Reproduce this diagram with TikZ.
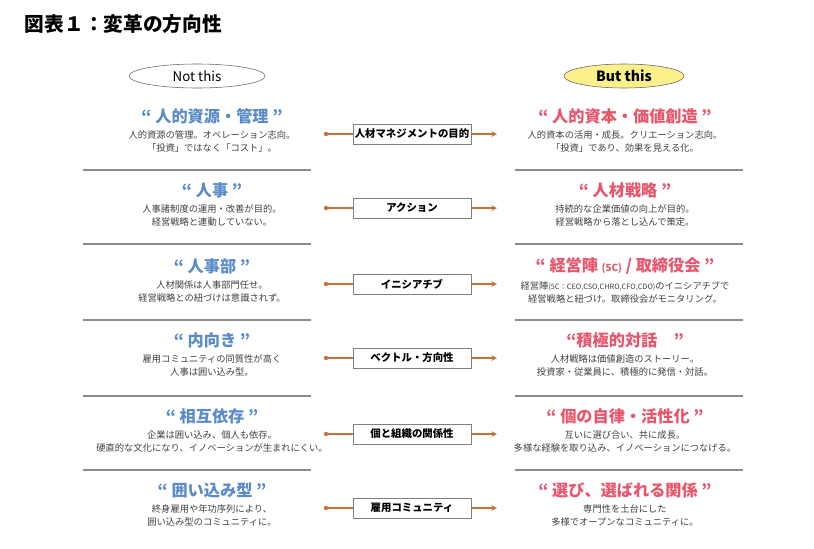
\documentclass[tikz,border=0pt]{standalone}
\usepackage{fontspec}
\setmainfont{Noto Sans CJK JP}
\usepackage{tikz}
\usetikzlibrary{shapes.geometric, arrows, positioning, calc}
\definecolor{notblue}{HTML}{5B8BC9}
\definecolor{butred}{HTML}{E8566C}
\definecolor{arrorange}{HTML}{C9713A}
\definecolor{sepgray}{HTML}{8C8C8C}
\definecolor{ovalyel}{HTML}{FBF08A}
\tikzstyle{oval} = [ellipse, draw=black!60, minimum width=3.4cm, minimum height=0.6cm, inner sep=0pt, font=\fontsize{9.5}{10}\selectfont]
\tikzstyle{headnot} = [text=notblue, font=\bfseries\fontsize{11.5}{13}\selectfont]
\tikzstyle{headbut} = [text=butred, font=\bfseries\fontsize{11.5}{13}\selectfont]
\tikzstyle{subtext} = [text=black!75, align=center, font=\fontsize{6.6}{9.4}\selectfont]
\tikzstyle{midbox} = [rectangle, draw=gray, fill=white, minimum width=2.95cm, minimum height=0.5cm, inner sep=1pt, font=\bfseries\fontsize{7.4}{8}\selectfont]
\tikzstyle{arrow} = [thick, arrorange, ->, >=stealth]
\tikzstyle{sepline} = [sepgray, line width=0.9pt]

\begin{document}
\begin{tikzpicture}[x=0.025cm, y=-0.025cm]
    \useasboundingbox (0,0) rectangle (814,548);
    % Title
    \node (title) [anchor=west, font=\bfseries\fontsize{14}{16}\selectfont] at (20,24) {図表１：変革の方向性};

    % Ovals
    \node (notthis) [oval] at (197,76) {Not this};
    \node (butthis) [oval, fill=ovalyel, minimum width=3.0cm, font=\bfseries\fontsize{10}{11}\selectfont] at (624,76) {But this};

    % Rows: y / left head / left text / mid / right head / right text
    \foreach \y/\lh/\lt/\mtxt/\rh/\rt [count=\i] in {
        116/{“ 人的資源・管理 ”}/{人的資源の管理。オペレーション志向。\\「投資」ではなく「コスト」。}/{人材マネジメントの目的}/{“ 人的資本・価値創造 ”}/{人的資本の活用・成長。クリエーション志向。\\「投資」であり、効果を見える化。},
        190/{“ 人事 ”}/{人事諸制度の運用・改善が目的。\\経営戦略と連動していない。}/{アクション}/{“ 人材戦略 ”}/{持続的な企業価値の向上が目的。\\経営戦略から落とし込んで策定。},
        266/{“ 人事部 ”}/{人材関係は人事部門任せ。\\経営戦略との紐づけは意識されず。}/{イニシアチブ}/{“ 経営陣 {\fontsize{7}{8}\selectfont(5C)} / 取締役会 ”}/{経営陣{\fontsize{5.2}{6}\selectfont(5C：CEO,CSO,CHRO,CFO,CDO)}のイニシアチブで\\経営戦略と紐づけ。取締役会がモニタリング。},
        340/{“ 内向き ”}/{雇用コミュニティの同質性が高く\\人事は囲い込み型。}/{ベクトル・方向性}/{“積極的対話　”}/{人材戦略は価値創造のストーリー。\\投資家・従業員に、積極的に発信・対話。},
        416/{“ 相互依存 ”}/{企業は囲い込み、個人も依存。\\硬直的な文化になり、イノベーションが生まれにくい。}/{個と組織の関係性}/{“ 個の自律・活性化 ”}/{互いに選び合い、共に成長。\\多様な経験を取り込み、イノベーションにつなげる。},
        490/{“ 囲い込み型 ”}/{終身雇用や年功序列により、\\囲い込み型のコミュニティに。}/{雇用コミュニティ}/{“ 選び、選ばれる関係 ”}/{専門性を土台にした\\多様でオープンなコミュニティに。}} {
        \node (lh\i) [headnot] at (212,\y) {\lh};
        \node (lt\i) [subtext, below=-2pt of lh\i] {\lt};
        \node (rh\i) [headbut] at (625,\y) {\rh};
        \node (rt\i) [subtext, below=-2pt of rh\i] {\rt};
        \node (mid\i) [midbox] at (412,\y+18) {\mtxt};
        \coordinate (ls\i) at (326,\y+18);
        \coordinate (re\i) at (497,\y+18);
        \fill[arrorange] (ls\i) circle (1.6pt);
        \draw [thick, arrorange] (ls\i) -- (mid\i.west);
        \draw [arrow] (mid\i.east) -- (re\i);
    }

    % Separators
    \foreach \y [count=\j] in {170,244,320,396,470} {
        \coordinate (sl\j) at (83,\y);
        \coordinate (sr\j) at (515,\y);
        \draw [sepline] (sl\j) -- ++(228,0);
        \draw [sepline] (sr\j) -- ++(228,0);
    }
\end{tikzpicture}
\end{document}
